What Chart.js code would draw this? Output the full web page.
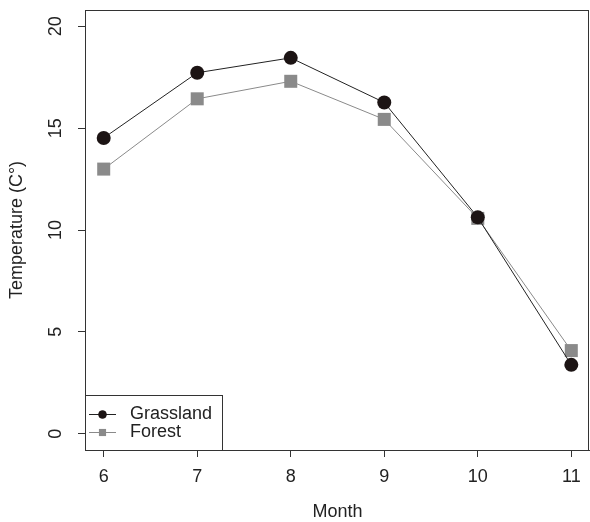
<!DOCTYPE html>
<html>
<head>
<meta charset="utf-8">
<script src="https://cdn.jsdelivr.net/npm/chart.js@4"></script>
<style>
html,body{margin:0;padding:0;background:#fff;}
#wrap{width:590px;height:522px;}
</style>
</head>
<body>
<div id="wrap"><canvas id="c" width="590" height="522"></canvas></div>
<script>
const months = [6, 7, 8, 9, 10, 11];
const grassland = [14.52, 17.72, 18.45, 16.26, 10.62, 3.38];
const forest = [12.99, 16.44, 17.30, 15.43, 10.57, 4.08];
const xTickLabels = ['6', '7', '8', '9', '10', '11'];
const yTickValues = [0, 5, 10, 15, 20];
const seriesNames = ['Grassland', 'Forest'];
const xTitle = 'Month';
const yTitle = 'Temperature (C\u00B0)';

const FONT = '18px "Liberation Sans", Arial, sans-serif';
const TXT = '#222';

const overlay = {
  id: 'overlay',
  afterDraw(chart) {
    const ctx = chart.ctx, a = chart.chartArea;
    const xs = chart.scales.x, ys = chart.scales.y;
    ctx.save();
    // box
    ctx.strokeStyle = '#333';
    ctx.lineWidth = 1;
    ctx.strokeRect(Math.round(a.left) + 0.5, Math.round(a.top) + 0.5,
      Math.round(a.right - a.left) - 2, Math.round(a.bottom - a.top));
    ctx.fillStyle = TXT;
    ctx.font = FONT;
    // x tick labels
    ctx.textAlign = 'center';
    ctx.textBaseline = 'middle';
    months.forEach((m, i) => {
      ctx.fillText(xTickLabels[i], xs.getPixelForValue(m), 477);
    });
    // y tick labels rotated
    yTickValues.forEach(v => {
      const y = ys.getPixelForValue(v);
      ctx.save();
      ctx.translate(56, y);
      ctx.rotate(-Math.PI / 2);
      ctx.fillText(String(v), 0, 0);
      ctx.restore();
    });
    // axis titles
    ctx.fillText(xTitle, (a.left + a.right) / 2, 512);
    ctx.save();
    ctx.translate(17, (a.top + a.bottom) / 2);
    ctx.rotate(-Math.PI / 2);
    ctx.fillText(yTitle, 0, 0);
    ctx.restore();
    // legend
    const lx = Math.round(a.left), lb = Math.round(a.bottom);
    ctx.fillStyle = '#fff';
    ctx.fillRect(lx + 0.5, 396, 137, lb - 396);
    ctx.strokeStyle = '#333';
    ctx.strokeRect(lx + 0.5, 395.5, 137, lb - 395);
    const rows = [
      {name: seriesNames[0], y: 414, line: '#222', fill: '#1c1414', style: 'circle', r: 4},
      {name: seriesNames[1], y: 432, line: '#8a8a8a', fill: '#8a8a8a', style: 'rect', r: 5}
    ];
    rows.forEach(r => {
      ctx.strokeStyle = r.line;
      ctx.lineWidth = 1;
      ctx.beginPath();
      ctx.moveTo(89, r.y + 0.5);
      ctx.lineTo(116, r.y + 0.5);
      ctx.stroke();
      ctx.fillStyle = r.fill;
      Chart.helpers.drawPoint(ctx, {pointStyle: r.style, radius: r.r, rotation: 0, borderWidth: 0}, 102.5, r.y + 0.5);
      ctx.fill();
      ctx.fillStyle = TXT;
      ctx.textAlign = 'left';
      ctx.fillText(r.name, 130, r.y);
    });
    ctx.restore();
  }
};

new Chart(document.getElementById('c'), {
  type: 'line',
  data: {
    datasets: [
      {
        label: seriesNames[0],
        data: months.map((m, i) => ({x: m, y: grassland[i]})),
        borderColor: '#222',
        borderWidth: 1,
        backgroundColor: '#1c1414',
        pointBackgroundColor: '#1c1414',
        pointBorderWidth: 0,
        pointStyle: 'circle',
        pointRadius: 7,
        tension: 0
      },
      {
        label: seriesNames[1],
        data: months.map((m, i) => ({x: m, y: forest[i]})),
        borderColor: '#8a8a8a',
        borderWidth: 1,
        backgroundColor: '#8a8a8a',
        pointBackgroundColor: '#8a8a8a',
        pointBorderWidth: 0,
        pointStyle: 'rect',
        pointRadius: 9.2,
        tension: 0
      }
    ]
  },
  options: {
    responsive: false,
    animation: false,
    events: [],
    layout: {autoPadding: false, padding: {top: 10, right: 0, left: 0, bottom: 0}},
    plugins: {legend: {display: false}, tooltip: {enabled: false}},
    scales: {
      x: {
        type: 'linear',
        min: 5.8, max: 11.2,
        afterBuildTicks: s => { s.ticks = months.map(v => ({value: v})); },
        afterFit: s => { s.height = 72; s.paddingLeft = 0; s.paddingRight = 0; },
        ticks: {display: false, padding: 0},
        grid: {display: true, drawOnChartArea: false, drawTicks: true, tickLength: 7, color: '#333'},
        border: {display: true, color: '#333'}
      },
      y: {
        type: 'linear',
        min: -0.8, max: 20.8,
        afterBuildTicks: s => { s.ticks = yTickValues.map(v => ({value: v})); },
        afterFit: s => { s.width = 85; s.paddingTop = 0; s.paddingBottom = 0; },
        ticks: {display: false, padding: 0},
        grid: {display: true, drawOnChartArea: false, drawTicks: true, tickLength: 7, color: '#333'},
        border: {display: true, color: '#333'}
      }
    }
  },
  plugins: [overlay]
});
</script>
</body>
</html>
